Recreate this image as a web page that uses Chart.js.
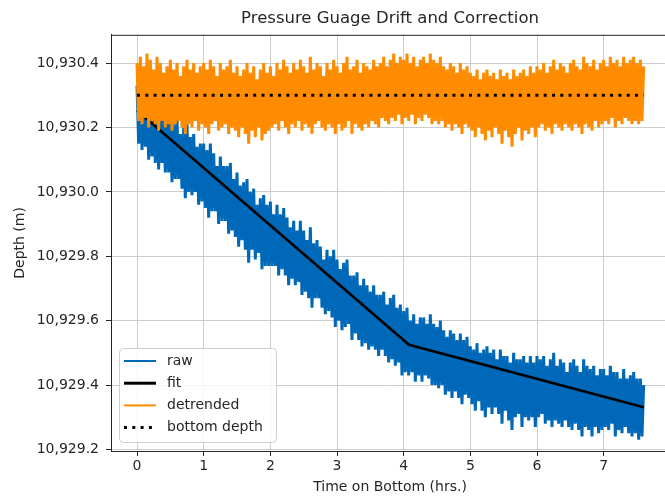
<!DOCTYPE html>
<html lang="en">
<head>
    <meta charset="UTF-8">
    <title>Pressure Guage Drift and Correction</title>
    <script src="https://cdn.jsdelivr.net/npm/chart.js"></script>
    <style>
        html, body { margin: 0; padding: 0; background: #fff; overflow: hidden; }
        #wrap { width: 680px; height: 497px; }
    </style>
</head>
<body>
    <div id="wrap"><canvas id="driftChart" width="680" height="497"></canvas></div>

    <script>
        // samples every 0.025 hrs, 0 .. 7.6
        const sampleStep = 0.025;

        // raw gauge depth (m) (alternating peaks / troughs)
        const rawDepth = [
            10930.33, 10930.15, 10930.34, 10930.13, 10930.31, 10930.14, 10930.34, 10930.10, 10930.31, 10930.11,
            10930.27, 10930.09, 10930.30, 10930.07, 10930.27, 10930.09, 10930.23, 10930.06, 10930.24, 10930.06,
            10930.25, 10930.03, 10930.21, 10930.04, 10930.23, 10930.04, 10930.18, 10930.01, 10930.20, 10929.98,
            10930.21, 10930.00, 10930.17, 10929.99, 10930.18, 10930.00, 10930.14, 10929.96, 10930.15, 10929.97,
            10930.15, 10929.95, 10930.13, 10929.92, 10930.15, 10929.94, 10930.12, 10929.94, 10930.08, 10929.90,
            10930.11, 10929.91, 10930.08, 10929.91, 10930.08, 10929.87, 10930.09, 10929.88, 10930.04, 10929.86,
            10930.06, 10929.83, 10930.02, 10929.85, 10930.03, 10929.82, 10930.04, 10929.78, 10930.00, 10929.82,
            10930.01, 10929.79, 10929.96, 10929.81, 10929.98, 10929.76, 10929.99, 10929.77, 10929.96, 10929.77,
            10929.97, 10929.77, 10929.93, 10929.77, 10929.96, 10929.74, 10929.93, 10929.76, 10929.95, 10929.74,
            10929.92, 10929.71, 10929.89, 10929.73, 10929.91, 10929.71, 10929.88, 10929.72, 10929.91, 10929.68,
            10929.88, 10929.69, 10929.85, 10929.67, 10929.89, 10929.64, 10929.84, 10929.67, 10929.85, 10929.67,
            10929.83, 10929.64, 10929.79, 10929.62, 10929.82, 10929.63, 10929.80, 10929.61, 10929.82, 10929.58,
            10929.79, 10929.60, 10929.76, 10929.57, 10929.78, 10929.58, 10929.79, 10929.59, 10929.74, 10929.54,
            10929.74, 10929.56, 10929.75, 10929.54, 10929.71, 10929.52, 10929.73, 10929.53, 10929.71, 10929.51,
            10929.69, 10929.52, 10929.71, 10929.51, 10929.68, 10929.49, 10929.68, 10929.51, 10929.69, 10929.49,
            10929.65, 10929.47, 10929.67, 10929.48, 10929.68, 10929.46, 10929.64, 10929.47, 10929.65, 10929.43,
            10929.63, 10929.44, 10929.64, 10929.43, 10929.60, 10929.44, 10929.62, 10929.41, 10929.59, 10929.43,
            10929.61, 10929.41, 10929.61, 10929.43, 10929.59, 10929.42, 10929.62, 10929.40, 10929.59, 10929.40,
            10929.58, 10929.39, 10929.60, 10929.40, 10929.57, 10929.37, 10929.55, 10929.38, 10929.57, 10929.36,
            10929.56, 10929.38, 10929.54, 10929.36, 10929.56, 10929.34, 10929.54, 10929.37, 10929.55, 10929.36,
            10929.52, 10929.34, 10929.51, 10929.32, 10929.53, 10929.35, 10929.50, 10929.32, 10929.51, 10929.30,
            10929.52, 10929.33, 10929.50, 10929.31, 10929.51, 10929.33, 10929.48, 10929.31, 10929.51, 10929.28,
            10929.49, 10929.32, 10929.49, 10929.29, 10929.47, 10929.26, 10929.50, 10929.30, 10929.48, 10929.31,
            10929.48, 10929.27, 10929.49, 10929.30, 10929.47, 10929.29, 10929.49, 10929.30, 10929.47, 10929.27,
            10929.49, 10929.30, 10929.48, 10929.31, 10929.49, 10929.28, 10929.46, 10929.29, 10929.48, 10929.27,
            10929.50, 10929.29, 10929.46, 10929.28, 10929.48, 10929.27, 10929.47, 10929.29, 10929.44, 10929.27,
            10929.47, 10929.26, 10929.48, 10929.28, 10929.46, 10929.26, 10929.44, 10929.24, 10929.48, 10929.27,
            10929.46, 10929.26, 10929.45, 10929.24, 10929.46, 10929.27, 10929.43, 10929.25, 10929.45, 10929.26,
            10929.45, 10929.27, 10929.43, 10929.26, 10929.46, 10929.28, 10929.44, 10929.24, 10929.44, 10929.26,
            10929.42, 10929.25, 10929.45, 10929.27, 10929.42, 10929.25, 10929.43, 10929.24, 10929.44, 10929.25,
            10929.42, 10929.23, 10929.42, 10929.24, 10929.40
        ];

        // detrended depth (m), orange trace
        const detrendedDepth = [
            10930.40, 10930.22, 10930.42, 10930.21, 10930.39, 10930.23, 10930.43, 10930.20, 10930.41, 10930.22,
            10930.38, 10930.21, 10930.42, 10930.19, 10930.40, 10930.22, 10930.37, 10930.20, 10930.39, 10930.21,
            10930.41, 10930.19, 10930.38, 10930.21, 10930.40, 10930.22, 10930.36, 10930.20, 10930.39, 10930.18,
            10930.41, 10930.21, 10930.38, 10930.20, 10930.40, 10930.22, 10930.37, 10930.19, 10930.39, 10930.21,
            10930.40, 10930.20, 10930.38, 10930.18, 10930.41, 10930.21, 10930.39, 10930.22, 10930.36, 10930.19,
            10930.40, 10930.20, 10930.38, 10930.21, 10930.39, 10930.18, 10930.41, 10930.20, 10930.37, 10930.19,
            10930.39, 10930.17, 10930.36, 10930.20, 10930.38, 10930.18, 10930.40, 10930.15, 10930.37, 10930.19,
            10930.39, 10930.17, 10930.35, 10930.20, 10930.38, 10930.16, 10930.40, 10930.18, 10930.37, 10930.19,
            10930.39, 10930.20, 10930.36, 10930.21, 10930.40, 10930.19, 10930.38, 10930.22, 10930.41, 10930.20,
            10930.39, 10930.18, 10930.37, 10930.21, 10930.40, 10930.20, 10930.38, 10930.22, 10930.41, 10930.19,
            10930.39, 10930.21, 10930.37, 10930.20, 10930.42, 10930.18, 10930.38, 10930.21, 10930.40, 10930.22,
            10930.39, 10930.20, 10930.36, 10930.19, 10930.40, 10930.21, 10930.38, 10930.20, 10930.41, 10930.18,
            10930.39, 10930.21, 10930.37, 10930.19, 10930.40, 10930.20, 10930.42, 10930.22, 10930.38, 10930.18,
            10930.39, 10930.21, 10930.41, 10930.20, 10930.37, 10930.19, 10930.40, 10930.21, 10930.39, 10930.20,
            10930.38, 10930.22, 10930.41, 10930.21, 10930.39, 10930.20, 10930.40, 10930.23, 10930.42, 10930.22,
            10930.39, 10930.21, 10930.41, 10930.23, 10930.43, 10930.22, 10930.40, 10930.24, 10930.42, 10930.21,
            10930.41, 10930.23, 10930.43, 10930.22, 10930.40, 10930.24, 10930.42, 10930.21, 10930.39, 10930.23,
            10930.41, 10930.22, 10930.42, 10930.24, 10930.40, 10930.23, 10930.43, 10930.21, 10930.41, 10930.22,
            10930.40, 10930.21, 10930.42, 10930.22, 10930.39, 10930.20, 10930.38, 10930.21, 10930.40, 10930.19,
            10930.39, 10930.21, 10930.37, 10930.20, 10930.40, 10930.18, 10930.38, 10930.21, 10930.39, 10930.20,
            10930.37, 10930.19, 10930.36, 10930.17, 10930.38, 10930.20, 10930.35, 10930.18, 10930.37, 10930.16,
            10930.38, 10930.19, 10930.36, 10930.17, 10930.37, 10930.20, 10930.35, 10930.18, 10930.38, 10930.15,
            10930.36, 10930.19, 10930.37, 10930.17, 10930.35, 10930.14, 10930.38, 10930.18, 10930.36, 10930.20,
            10930.37, 10930.16, 10930.38, 10930.19, 10930.36, 10930.18, 10930.39, 10930.20, 10930.37, 10930.17,
            10930.39, 10930.20, 10930.38, 10930.21, 10930.40, 10930.19, 10930.37, 10930.20, 10930.39, 10930.18,
            10930.41, 10930.21, 10930.38, 10930.20, 10930.40, 10930.19, 10930.39, 10930.21, 10930.37, 10930.20,
            10930.40, 10930.19, 10930.41, 10930.21, 10930.39, 10930.20, 10930.38, 10930.18, 10930.42, 10930.21,
            10930.40, 10930.20, 10930.39, 10930.19, 10930.41, 10930.22, 10930.38, 10930.20, 10930.40, 10930.21,
            10930.41, 10930.22, 10930.39, 10930.21, 10930.42, 10930.23, 10930.40, 10930.20, 10930.41, 10930.22,
            10930.39, 10930.21, 10930.42, 10930.23, 10930.40, 10930.22, 10930.41, 10930.21, 10930.42, 10930.22,
            10930.40, 10930.21, 10930.41, 10930.22, 10930.39
        ];

        // piecewise drift fit
        const fitTimes = [0, 4.08, 7.6];
        const fitDepth = [10930.253, 10929.525, 10929.331];

        const bottomTimes = [0, 7.6];
        const bottomDepth = [10930.3, 10930.3];

        const xTicks = [0, 1, 2, 3, 4, 5, 6, 7];
        const yTicks = [10929.2, 10929.4, 10929.6, 10929.8, 10930.0, 10930.2, 10930.4];

        const toPoints = (xs, ys) => ys.map((y, i) => ({ x: xs[i], y: y }));
        const sampled = ys => ys.map((y, i) => ({ x: i * sampleStep, y: y }));

        const FONT = "'DejaVu Sans', sans-serif";
        const INK = '#262626';

        // matplotlib-like frame + legend inside the axes
        const framePlugin = {
            id: 'frame',
            afterDatasetsDraw(chart) {
                const { ctx, chartArea: a } = chart;
                ctx.save();
                ctx.strokeStyle = INK;
                ctx.lineWidth = 1;
                ctx.strokeRect(a.left + 0.5, a.top + 0.5, a.right - a.left, a.bottom - a.top);

                // legend box
                const bx = 119, by = 348, bw = 157, bh = 94;
                ctx.beginPath();
                ctx.roundRect(bx + 0.5, by + 0.5, bw, bh, 4);
                ctx.fillStyle = 'rgba(255,255,255,0.8)';
                ctx.fill();
                ctx.strokeStyle = '#d0d0d0';
                ctx.stroke();

                ctx.font = '14px ' + FONT;
                ctx.textBaseline = 'middle';
                chart.data.datasets.forEach((ds, i) => {
                    const y = 361 + i * 22.2;
                    ctx.beginPath();
                    ctx.strokeStyle = ds.borderColor;
                    ctx.lineWidth = ds.legendWidth;
                    ctx.setLineDash(ds.borderDash || []);
                    ctx.lineCap = 'butt';
                    ctx.moveTo(124, y);
                    ctx.lineTo(156, y);
                    ctx.stroke();
                    ctx.setLineDash([]);
                    ctx.fillStyle = INK;
                    ctx.fillText(ds.label, 167, y);
                });
                ctx.restore();
            }
        };

        new Chart(document.getElementById('driftChart'), {
            type: 'line',
            data: {
                datasets: [
                    {
                        label: 'raw',
                        data: sampled(rawDepth),
                        borderColor: '#0068b8',
                        borderWidth: 3,
                        legendWidth: 2,
                        borderJoinStyle: 'bevel',
                        order: 4
                    },
                    {
                        label: 'fit',
                        data: toPoints(fitTimes, fitDepth),
                        borderColor: '#000000',
                        borderWidth: 2.5,
                        legendWidth: 3,
                        order: 3
                    },
                    {
                        label: 'detrended',
                        data: sampled(detrendedDepth),
                        borderColor: '#ff8c00',
                        borderWidth: 3,
                        legendWidth: 2,
                        borderJoinStyle: 'bevel',
                        order: 2
                    },
                    {
                        label: 'bottom depth',
                        data: toPoints(bottomTimes, bottomDepth),
                        borderColor: '#000000',
                        borderWidth: 3,
                        legendWidth: 3,
                        borderDash: [3, 5.3],
                        order: 1
                    }
                ]
            },
            options: {
                responsive: false,
                animation: false,
                devicePixelRatio: 1,
                layout: { padding: { left: 0, right: 11, top: 0, bottom: 0 } },
                elements: {
                    point: { radius: 0 },
                    line: { tension: 0, fill: false }
                },
                plugins: {
                    legend: { display: false },
                    tooltip: { enabled: false },
                    title: {
                        display: true,
                        text: 'Pressure Guage Drift and Correction',
                        fullSize: false,
                        color: INK,
                        font: { family: FONT, size: 16.5, weight: 'normal' },
                        padding: { top: 9, bottom: 6 }
                    }
                },
                scales: {
                    x: {
                        type: 'linear',
                        min: -0.39,
                        max: 7.98,
                        afterBuildTicks: s => { s.ticks = xTicks.map(v => ({ value: v })); },
                        afterFit: s => { s.height = 46; },
                        ticks: {
                            color: INK,
                            font: { family: FONT, size: 14 },
                            padding: 2,
                            maxRotation: 0
                        },
                        grid: {
                            color: '#cccccc',
                            tickColor: INK,
                            tickLength: 5
                        },
                        border: { color: INK, width: 1 },
                        title: {
                            display: true,
                            text: 'Time on Bottom (hrs.)',
                            color: INK,
                            font: { family: FONT, size: 14 },
                            padding: { top: 0, bottom: 1.5 }
                        }
                    },
                    y: {
                        type: 'linear',
                        min: 10929.195,
                        max: 10930.488,
                        afterBuildTicks: s => { s.ticks = yTicks.map(v => ({ value: v })); },
                        afterFit: s => { s.width = 111; },
                        ticks: {
                            color: INK,
                            font: { family: FONT, size: 14 },
                            padding: 7,
                            callback: v => v.toLocaleString('en-US', { minimumFractionDigits: 1, maximumFractionDigits: 1 })
                        },
                        grid: {
                            color: '#cccccc',
                            tickColor: INK,
                            tickLength: 5
                        },
                        border: { color: INK, width: 1 },
                        title: {
                            display: true,
                            text: 'Depth (m)',
                            color: INK,
                            font: { family: FONT, size: 14 },
                            padding: { top: 11.6, bottom: 0 }
                        }
                    }
                }
            },
            plugins: [framePlugin]
        });
    </script>
</body>
</html>
